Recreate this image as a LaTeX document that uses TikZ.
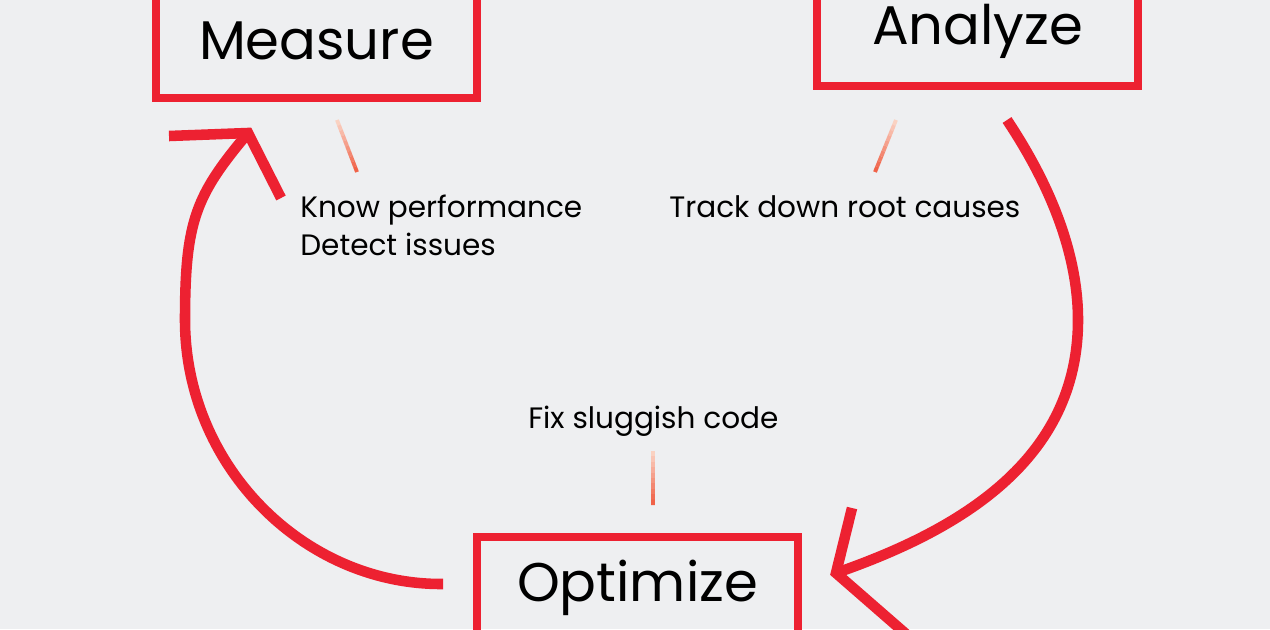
\documentclass[tikz,border=0pt]{standalone}
\usepackage{fontspec}
\setmainfont{Poppins}
\usetikzlibrary{calc}
\definecolor{cyclered}{RGB}{237,33,49}
\definecolor{paper}{RGB}{238,239,241}
\definecolor{tickdark}{RGB}{240,98,72}
\definecolor{ticklight}{RGB}{251,222,208}

\begin{document}
\begin{tikzpicture}[x=0.02cm,y=-0.02cm,
    stage/.style={draw=cyclered,line width=4.5pt,inner sep=0pt,minimum width=6.42cm,
                  text height=0.76cm,text depth=0pt,font=\fontsize{31}{37}\selectfont},
    note/.style={anchor=base west,align=left,inner sep=0pt,font=\fontsize{16.8}{21.6}\selectfont},
    loopline/.style={draw=cyclered,line width=6pt},
    vhead/.style={loopline,miter limit=20},
    tickline/.style={line width=2.2pt}]

  \useasboundingbox[fill=paper] (0,0) rectangle (1270,629);

  % the three stages
  \node[stage,minimum height=2.28cm] (measure) at (316.5,41) {Measure};
  \node[stage,minimum height=2.4cm] (analyze) at (977.5,26) {Analyze};
  \node[stage,minimum height=2cm,text depth=0.2cm] (optimize) at (637.5,587) {Optimize};

  % notes (base of a two line node is its last line)
  \node[note] (measurenote) at (300,255) {Know performance\\Detect issues};
  \node[note] (analyzenote) at (669,217) {Track down root causes};
  \node[note] (optimizenote) at (528,428) {Fix sluggish code};

  % little ticks between stage and note
  \coordinate (mt1) at (337,120);
  \coordinate (mt2) at (357,172);
  \coordinate (at1) at (896,120);
  \coordinate (at2) at (875,172);
  \coordinate (ot1) at (653,451);
  \coordinate (ot2) at (653,505);
  \foreach \a/\b in {mt1/mt2,at1/at2,ot1/ot2}
    \foreach \i in {0,...,9}{
      \pgfmathtruncatemacro\p{10*\i+10}
      \pgfmathtruncatemacro\j{\i+1}
      \draw[tickline,color=tickdark!\p!ticklight] ($(\a)!\i/10!(\b)$) -- ($(\a)!\j/10!(\b)$);
    }

  % left arc: optimize -> measure
  \coordinate (lstart) at (443,584);
  \coordinate (lside) at (185,320);
  \coordinate (ltip) at (248,133);
  \coordinate (larm1) at (169,136);
  \coordinate (larm2) at (281,198);
  \draw[loopline] (lstart) .. controls (304,585) and (185,466) .. (lside)
                           .. controls (185,220) and (196,195) .. (ltip);
  \draw[vhead] (larm1) -- (ltip) -- (larm2);

  % right arc: analyze -> optimize
  \coordinate (rstart) at (1007,120);
  \coordinate (rside) at (1078,320);
  \coordinate (rtip) at (836,573);
  \coordinate (rarm1) at (852,508);
  \coordinate (rarm2) at (906,634);
  \draw[loopline] (rstart) .. controls (1047,180) and (1078,250) .. (rside)
                           .. controls (1078,460) and (960,530) .. (rtip);
  \draw[vhead] (rarm1) -- (rtip) -- (rarm2);
\end{tikzpicture}
\end{document}
